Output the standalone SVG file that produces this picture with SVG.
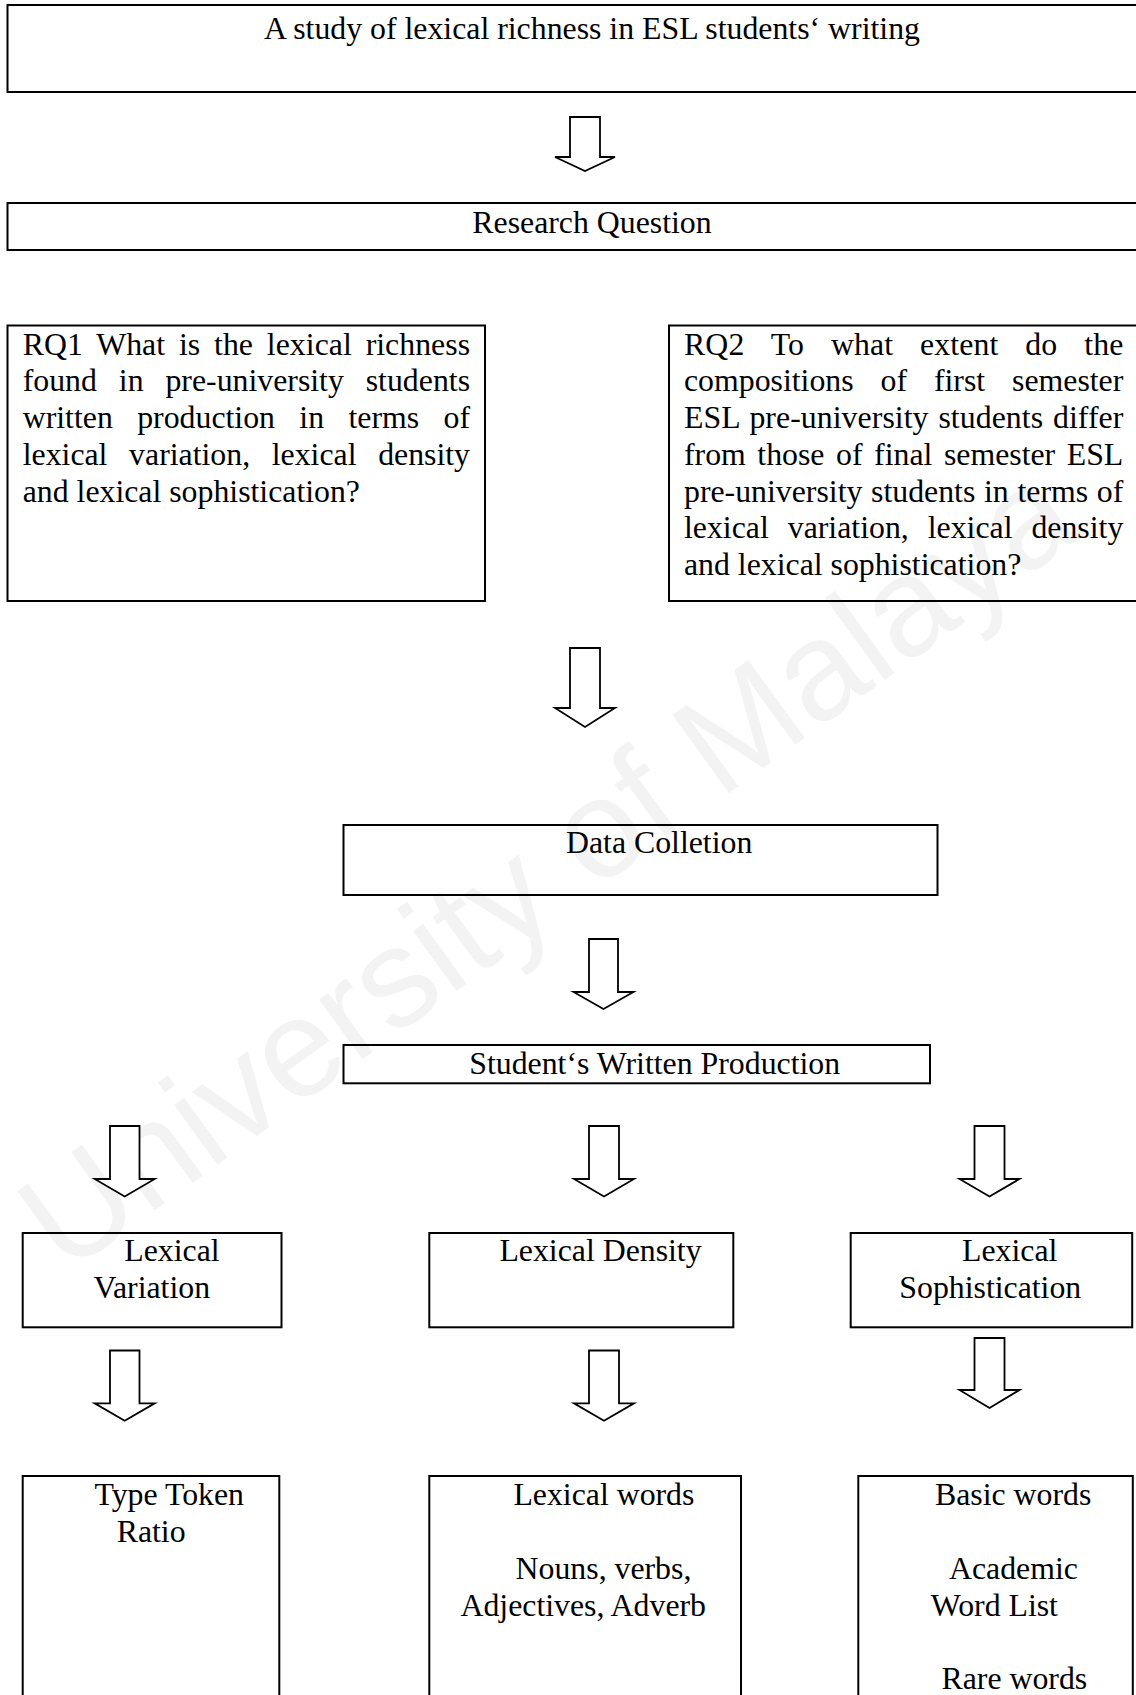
<svg xmlns="http://www.w3.org/2000/svg" width="1136" height="1695" viewBox="0 0 1136 1695">
<style>
.box{fill:none;stroke:#000;stroke-width:2}
.arr{fill:#fff;stroke:#000;stroke-width:1.8;stroke-linejoin:miter}
text{font-family:"Liberation Serif","Times New Roman",serif;font-size:31.8px;fill:#000}
.c{text-anchor:middle}
.wm{font-family:"Liberation Sans",Arial,sans-serif;font-size:140px;fill:#f3f3f3;text-anchor:middle}
</style>
<rect width="1136" height="1695" fill="#fff"/>
<text class="wm" transform="translate(575,905) rotate(-36)">University of Malaya</text>

<g id="title">
<rect class="box" x="7.5" y="5" width="1180" height="87"/>
<text class="c" x="592" y="38.5">A study of lexical richness in ESL students‘ writing</text>
</g>
<g id="research-question">
<rect class="box" x="7.5" y="203" width="1180" height="47"/>
<text class="c" x="592" y="233">Research Question</text>
</g>
<g id="rq1">
<rect class="box" x="7.5" y="325.5" width="477.5" height="275.5"/>
<text x="22.7" y="354.5" word-spacing="5.9" textLength="447.3" lengthAdjust="spacing">RQ1 What is the lexical richness</text>
<text x="22.7" y="391.2" word-spacing="13.95" textLength="447.3" lengthAdjust="spacing">found in pre-university students</text>
<text x="22.7" y="428" word-spacing="16.4" textLength="447.3" lengthAdjust="spacing">written production in terms of</text>
<text x="22.7" y="464.7" word-spacing="13.7" textLength="447.3" lengthAdjust="spacing">lexical variation, lexical density</text>
<text x="22.7" y="501.5">and lexical sophistication?</text>
</g>
<g id="rq2">
<rect class="box" x="669" y="325.5" width="480" height="275.5"/>
<text x="684" y="354.5" word-spacing="18.8" textLength="439.3" lengthAdjust="spacing">RQ2 To what extent do the</text>
<text x="684" y="391.2" word-spacing="18.95" textLength="439.3" lengthAdjust="spacing">compositions of first semester</text>
<text x="684" y="428" word-spacing="1.9" textLength="439.3" lengthAdjust="spacing">ESL pre-university students differ</text>
<text x="684" y="464.7" word-spacing="3.6" textLength="439.3" lengthAdjust="spacing">from those of final semester ESL</text>
<text x="684" y="501.5" word-spacing="0.75" textLength="439.3" lengthAdjust="spacing">pre-university students in terms of</text>
<text x="684" y="538.2" word-spacing="11" textLength="439.3" lengthAdjust="spacing">lexical variation, lexical density</text>
<text x="684" y="575">and lexical sophistication?</text>
</g>
<g id="data-collection">
<rect class="box" x="343.5" y="825" width="594" height="70"/>
<text x="566" y="853">Data Colletion</text>
</g>
<g id="written-production">
<rect class="box" x="343.5" y="1045" width="586.5" height="38.3"/>
<text x="469.3" y="1074">Student‘s Written Production</text>
</g>
<g id="lexical-variation">
<rect class="box" x="22.7" y="1233" width="258.8" height="94.3"/>
<text x="124.3" y="1261">Lexical</text>
<text x="93.5" y="1297.7">Variation</text>
</g>
<g id="lexical-density">
<rect class="box" x="429.3" y="1233" width="304" height="94.3"/>
<text x="499.4" y="1261">Lexical Density</text>
</g>
<g id="lexical-sophistication">
<rect class="box" x="850.7" y="1233" width="281.5" height="94.3"/>
<text x="962" y="1261">Lexical</text>
<text x="899.3" y="1297.7">Sophistication</text>
</g>
<g id="type-token-ratio">
<rect class="box" x="22.7" y="1476" width="256.6" height="300"/>
<text x="94.5" y="1505.3">Type Token</text>
<text x="116.7" y="1542">Ratio</text>
</g>
<g id="lexical-words">
<rect class="box" x="429.3" y="1476" width="311.7" height="300"/>
<text x="513.4" y="1505.3">Lexical words</text>
<text x="515.6" y="1578.8">Nouns, verbs,</text>
<text x="460.5" y="1615.6">Adjectives, Adverb</text>
</g>
<g id="basic-words">
<rect class="box" x="858.3" y="1476" width="274.5" height="300"/>
<text x="935" y="1505.3">Basic words</text>
<text x="949" y="1578.8">Academic</text>
<text x="930.7" y="1615.6">Word List</text>
<text x="941.5" y="1689">Rare words</text>
</g>

<g id="connectors">
<polygon class="arr" points="570,117 600,117 600,157 615,157 585,171 555,157 570,157"/>
<polygon class="arr" points="570,648 600,648 600,708 615,708 585,727 555,708 570,708"/>
<polygon class="arr" points="589,939 618,939 618,992 633.5,992 603.5,1009 573.5,992 589,992"/>
<polygon class="arr" points="110,1126 139.5,1126 139.5,1179 154.7,1179 124.7,1196.5 94.7,1179 110,1179"/>
<polygon class="arr" points="589,1126 619,1126 619,1179 634,1179 604,1196.5 574,1179 589,1179"/>
<polygon class="arr" points="974.5,1126 1004.5,1126 1004.5,1179 1019.5,1179 989.5,1196.5 959.5,1179 974.5,1179"/>
<polygon class="arr" points="110,1350.5 139.5,1350.5 139.5,1403.3 154.7,1403.3 124.7,1420.7 94.7,1403.3 110,1403.3"/>
<polygon class="arr" points="589,1350.5 619,1350.5 619,1403.3 634,1403.3 604,1420.7 574,1403.3 589,1403.3"/>
<polygon class="arr" points="974.5,1338 1004.5,1338 1004.5,1390 1019.5,1390 989.5,1408 959.5,1390 974.5,1390"/>
</g>
</svg>
